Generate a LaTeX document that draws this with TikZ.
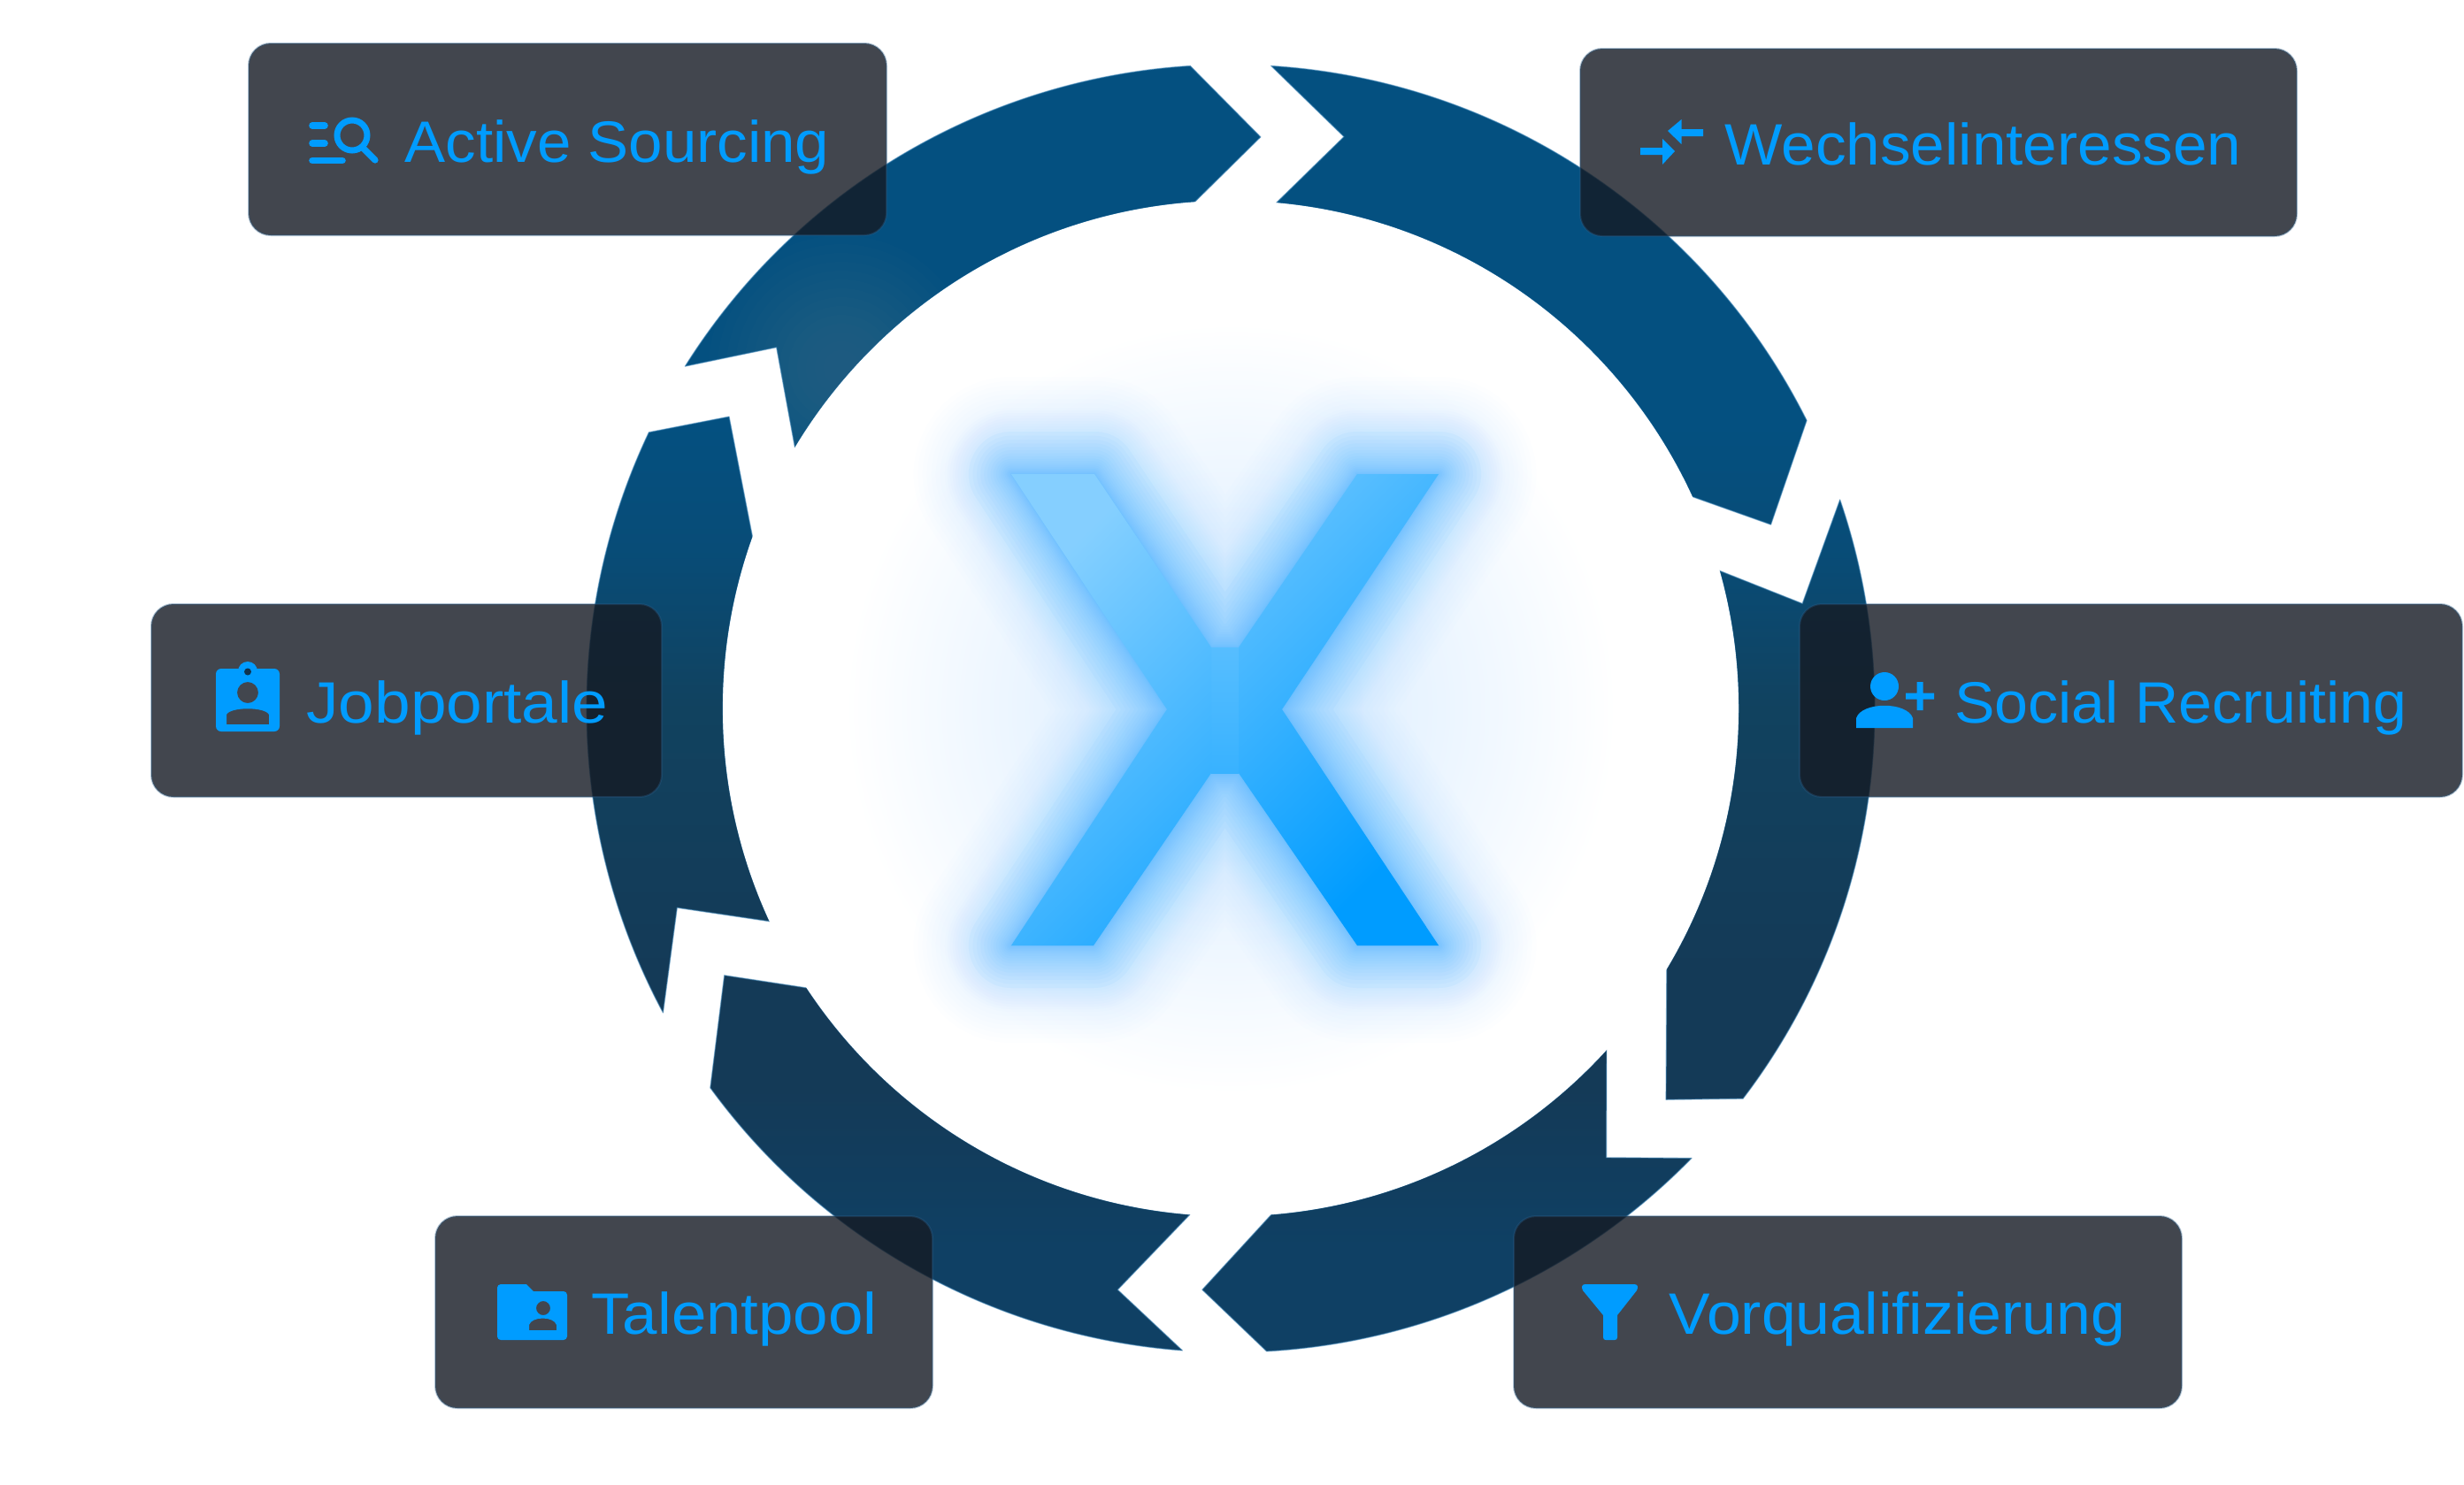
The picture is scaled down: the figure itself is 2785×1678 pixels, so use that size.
\documentclass[tikz,border=0pt]{standalone}
\usepackage{fontspec}
\setmainfont{Liberation Sans}
\usetikzlibrary{calc}
\definecolor{rA}{HTML}{045080}
\definecolor{rB}{HTML}{084C77}
\definecolor{rC}{HTML}{11425F}
\definecolor{rD}{HTML}{143A57}
\definecolor{rE}{HTML}{0F4064}
\definecolor{gA}{HTML}{D8ECFF}
\definecolor{gB}{HTML}{E9F4FF}
\definecolor{gD}{HTML}{FFFFFF}
\definecolor{boxfill}{HTML}{151A23}
\definecolor{boxedge}{HTML}{2C5F8A}
\definecolor{ink}{HTML}{009CFF}
\definecolor{glowc}{HTML}{3FB0FF}
\definecolor{ringedge}{HTML}{3F86B8}
\definecolor{patch}{HTML}{7F8C90}
\pgfdeclareverticalshading{ringv}{100bp}{color(0bp)=(rE);color(30bp)=(rE);color(36bp)=(rD);color(40.3bp)=(rD);color(50.3bp)=(rC);color(56.3bp)=(rB);color(61bp)=(rA);color(100bp)=(rA)}
\pgfdeclareradialshading{halo}{\pgfpoint{0bp}{0bp}}{color(0bp)=(gA);color(9.5bp)=(gB);color(19bp)=(gD);color(50bp)=(gD)}
\tikzset{
  x=0.5pt,y=0.5pt,
  card/.style={rounded corners=12.5pt,fill=boxfill,fill opacity=.805,draw=boxedge,draw opacity=.35,line width=1pt,minimum width=#1,inner sep=0pt},
  cardh/.style={minimum height=#1},
  label/.style={anchor=base west,inner sep=0pt,text=ink,font=\fontsize{33pt}{36pt}\selectfont},
  icon/.style={fill=ink,draw=none},
  iconline/.style={draw=ink,line cap=round},
}
\newcommand\fitw[2]{\resizebox{#1}{\height}{#2}}
\def\segA{(93.6:728) -- (87:647) -- (94.07:574) arc[start angle=94.07,end angle=149.1,radius=287pt] -- (141.5:656) -- (147.9:728) arc[start angle=147.9,end angle=93.6,radius=364pt] -- cycle}
\def\segB{(86.4:728) -- (78.8:659) -- (84.85:574) arc[start angle=84.85,end angle=24.66,radius=287pt] -- (18.8:645) -- (26.57:728) arc[start angle=26.57,end angle=86.4,radius=364pt] -- cycle}
\def\segC{(18.92:728) -- (10.4:657) -- (15.75:574) arc[start angle=15.75,end angle=-30.84,radius=287pt] -- (-41.95:661.6) -- (-37.3:728) arc[start angle=-37.3,end angle=18.92,radius=364pt] -- cycle}
\def\segD{(-44.3:728) -- (-50.1:662) -- (-42.25:574) arc[start angle=-42.25,end angle=-85.4,radius=287pt] -- (-92.8:658) -- (-86.8:728) arc[start angle=-86.8,end angle=-44.3,radius=364pt] -- cycle}
\def\segE{(-94.6:574) -- (-101:669.5) -- (-94.3:728) arc[start angle=-94.3,end angle=-143.9,radius=364pt] -- (-152.2:647) -- (-146.6:574) arc[start angle=-146.6,end angle=-94.6,radius=287pt] -- cycle}
\def\segF{(-151.8:728) -- (-160.2:665) -- (-155.2:574) arc[start angle=204.8,end angle=160.3,radius=287pt] -- (149.8:656) -- (154.6:728) arc[start angle=154.6,end angle=208.2,radius=364pt] -- cycle}
\begin{document}
\begin{tikzpicture}
\useasboundingbox (0,-1678) rectangle (2785,0);
\fill[white] (0,-1678) rectangle (2785,0);
% ring
\begin{scope}[shift={(1391,-801)}]
  \begin{scope}
    \clip \segA \segB \segC \segD \segE \segF;
    \shade[shading=ringv] (-791,741) rectangle (809,-759);
  \end{scope}
  \begin{scope}
    \clip \segA;
    \foreach \r in {20,30,...,150}{
      \fill[patch,fill opacity=.018] (-440,385) circle[radius=\r*0.5pt];
    }
  \end{scope}
  \draw[ringedge,draw opacity=.55,line width=.6pt,line join=round] \segA \segB \segC \segD \segE \segF;
\end{scope}
% halo
\shade[shading=halo] (1391,-801) circle[radius=287pt];
% glow
\def\Xout{(1143,-536) -- (1237,-536) -- (1369,-732) -- (1400,-732) -- (1534,-536) -- (1626,-536) -- (1449,-802) -- (1626,-1069) -- (1534,-1069) -- (1400,-874) -- (1369,-874) -- (1236,-1069) -- (1143,-1069) -- (1319,-802) -- cycle}
\foreach \w in {220,210,...,150}{
  \draw[draw=glowc,draw opacity=.006,line width=\w*0.5pt,line join=round] \Xout;
}
\foreach \w in {144,138,...,96}{
  \draw[draw=glowc,draw opacity=.014,line width=\w*0.5pt,line join=round] \Xout;
}
\foreach \i in {1,...,20}{
  \draw[draw=glowc,draw opacity=.045,line width={0.24*\i*\i*0.5pt},line join=round] \Xout;
}
\shade[top color=ink!66,bottom color=ink!78] (1369,-732) rectangle (1400,-874);
% X
\begin{scope}
\clip (1143,-536) -- (1237,-536) -- (1369,-732) -- (1369,-874) -- (1236,-1069) -- (1143,-1069) -- (1319,-802) -- cycle
      (1400,-732) -- (1534,-536) -- (1626,-536) -- (1449,-802) -- (1626,-1069) -- (1534,-1069) -- (1400,-874) -- cycle;
\shade[top color=ink!48,bottom color=ink,shading angle=45] (1143,-536) rectangle (1626,-1069);
\end{scope}
% cards
\node[card=721*0.5pt,cardh=217*0.5pt] (cardA) at (641.5,-157.5) {};
\node[card=810*0.5pt,cardh=212*0.5pt] (cardW) at (2191,-161) {};
\node[card=577*0.5pt,cardh=218*0.5pt] (cardJ) at (459.5,-792) {};
\node[card=749*0.5pt,cardh=218*0.5pt] (cardS) at (2408.5,-792) {};
\node[card=562*0.5pt,cardh=217*0.5pt] (cardT) at (773,-1483.5) {};
\node[card=755*0.5pt,cardh=217*0.5pt] (cardV) at (2088.5,-1483.5) {};
% labels
\node[label] (txtA) at (457,-183) {\fitw{240pt}{Active Sourcing}};
\node[label] (txtW) at (1949,-186) {\fitw{292pt}{Wechselinteressen}};
\node[label] (txtJ) at (346,-817) {\fitw{170.5pt}{Jobportale}};
\node[label] (txtS) at (2209,-817) {\fitw{255.5pt}{Social Recruiting}};
\node[label] (txtT) at (668,-1508) {\fitw{161.5pt}{Talentpool}};
\node[label] (txtV) at (1886,-1508) {\fitw{258pt}{Vorqualifizierung}};
% icon: search list
\draw[iconline,line width=3.8pt] (353,-142) -- (367,-142) (353,-162) -- (367,-162) (353,-181.5) -- (387,-181.5);
\draw[iconline,line width=3.5pt] (398,-153) circle[radius=8.5pt];
\draw[iconline,line width=3.6pt] (410,-167) -- (424,-181);
% icon: exchange arrows
\fill[icon] (1885,-148) -- (1900.5,-135) -- (1900.5,-146) -- (1925,-146) -- (1925,-154) -- (1900.5,-154) -- (1900.5,-163) -- cycle;
\fill[icon] (1893,-171) -- (1879,-157) -- (1879,-167) -- (1854,-167) -- (1854,-175) -- (1879,-175) -- (1879,-186) -- cycle;
% icon: badge
\fill[icon,even odd rule] [rounded corners=3pt] (244,-756) rectangle (316,-827)
  [sharp corners] (280,-783) circle[radius=6pt]
  (256,-819) -- (304,-819) -- (304,-808) .. controls (300,-799) and (260,-799) .. (256,-808) -- cycle;
\fill[icon] (280,-759) circle[radius=5.5pt];
\fill[boxfill,fill opacity=.805] (280,-759.5) circle[radius=2pt];
% icon: add person
\fill[icon] (2130,-776) circle[radius=8pt];
\fill[icon] (2098,-823) -- (2098,-812) .. controls (2104,-793) and (2156,-793) .. (2162,-812) -- (2162,-823) -- cycle;
\fill[icon] (2154,-783.5) rectangle (2186,-790.5) (2166.5,-771) rectangle (2173.5,-803);
% icon: folder
\fill[icon,even odd rule] (566,-1452) -- (595,-1452) -- (603,-1460) -- (637,-1460) arc[start angle=90,end angle=0,radius=2pt] -- (641,-1511) arc[start angle=0,end angle=-90,radius=2pt] -- (566,-1515) arc[start angle=-90,end angle=-180,radius=2pt] -- (562,-1456) arc[start angle=180,end angle=90,radius=2pt] -- cycle
  (614,-1479) circle[radius=4pt]
  (598,-1504) -- (629,-1504) -- (629,-1498) .. controls (626,-1488) and (601,-1488) .. (598,-1498) -- cycle;
% icon: funnel
\fill[icon] (1792,-1452) -- (1847,-1452) .. controls (1851,-1452) and (1852,-1455) .. (1850,-1459) -- (1828,-1487) -- (1828,-1512) .. controls (1828,-1514) and (1827,-1515) .. (1825,-1515) -- (1815,-1515) .. controls (1813,-1515) and (1812,-1514) .. (1812,-1512) -- (1812,-1487) -- (1789,-1459) .. controls (1787,-1455) and (1788,-1452) .. (1792,-1452) -- cycle;
\end{tikzpicture}
\end{document}
